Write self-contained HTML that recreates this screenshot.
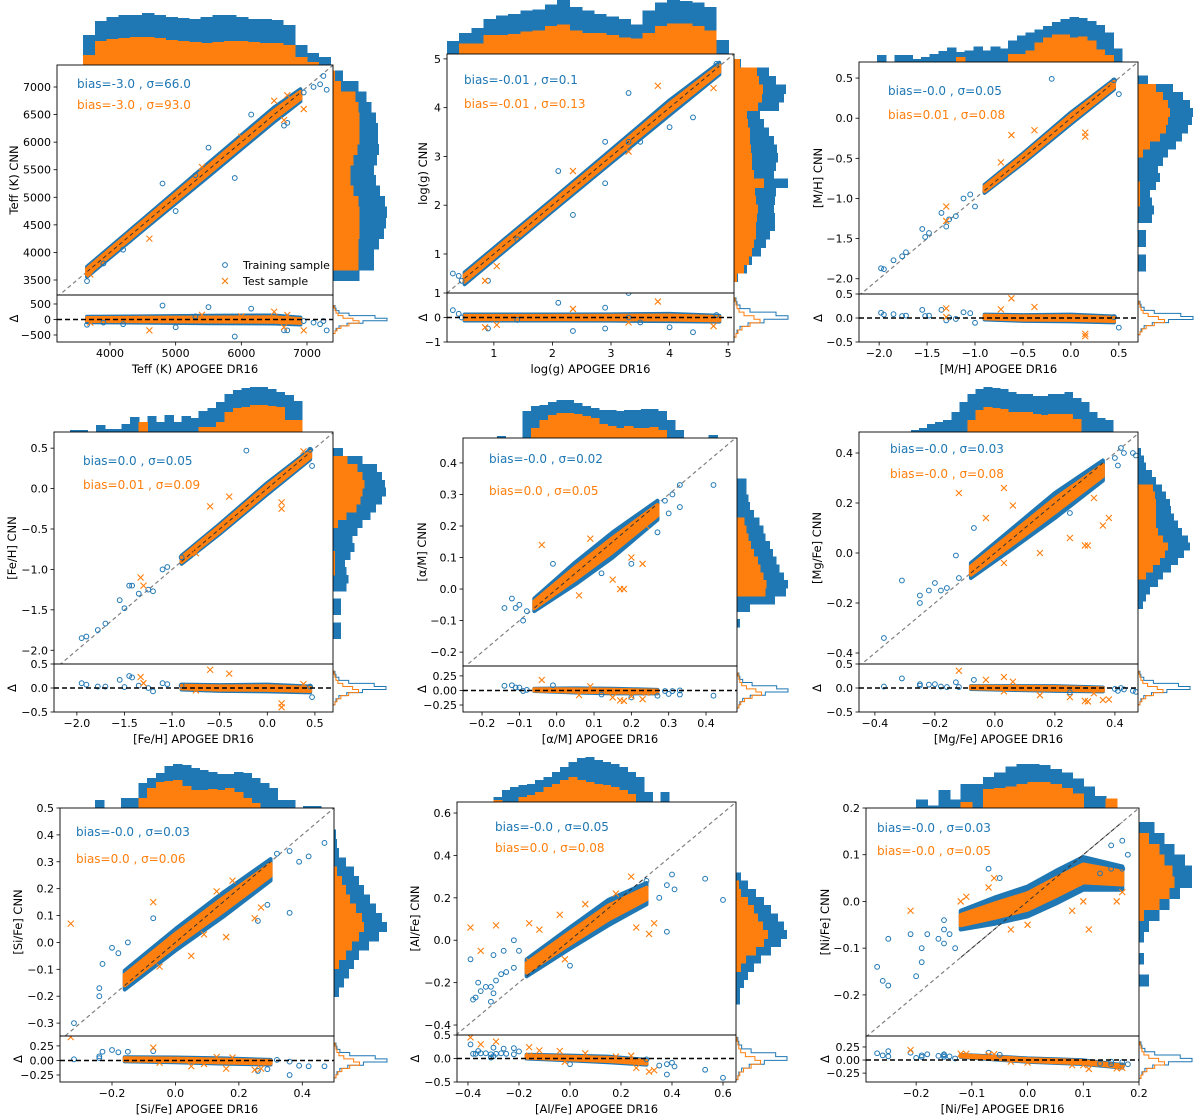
<!DOCTYPE html>
<html><head><meta charset="utf-8"><style>
html,body{margin:0;padding:0;background:#fff;}
svg{display:block;font-family:"DejaVu Sans","Liberation Sans",sans-serif;}
</style></head><body>
<svg id="fig" width="1200" height="1118" viewBox="0 0 1200 1118" xmlns="http://www.w3.org/2000/svg"></svg>
<script>
// ---------- DATA (per panel) ----------
const p1TrX=[7250,7200,7100,7300,6950,5900,4800,5300,5500,6150,3650,3900,6650,6700,4200,5000];
const p1TrY=[7200,7050,7000,6950,6900,5350,5250,5400,5900,6500,3480,3800,6300,6350,4050,4750];
const p1TeX=[4600,6950,6500,6700,5400,6000,3700,6650];
const p1TeY=[4250,6600,6750,6850,5550,6100,3600,6400];
const p1BandX=[3650,4500,5500,6500,6900];
const p1BandY=[3650,4500,5500,6500,6850];
const p1BandW=[90,100,120,130,110];
const p1TopB=[30,44,48,50,50,52,50,48,47,46,48,50,50,48,46,46,45,40,20,12,8];
const p1TopO=[10,24,26,27,28,28,27,25,24,23,22,23,24,24,23,22,22,20,8,3,0];
const p1RightB=[26,40,40,45,50,52,53,51,46,42,40,43,45,44,44,42,38,33,25,10];
const p1RightO=[0,25,25,25,26,26,26,25,20,17,17,20,24,26,26,26,25,22,8,2];
const p1ResB=[2,3,6,14,30,54,42,16,6,3,2];
const p1ResO=[2,4,8,16,26,20,10,5,3,2,1];

const p2TrX=[0.3,0.4,0.45,0.9,2.9,3.5,4.0,3.3,2.35,2.9,3.3,4.8,4.4,2.1,1.4];
const p2TrY=[0.6,0.55,0.45,0.45,3.3,3.3,3.6,3.3,1.8,2.45,4.3,4.9,3.8,2.7,1.3];
const p2TeX=[0.85,3.8,4.75,2.35,1.05,3.3];
const p2TeY=[0.45,4.45,4.4,2.7,0.75,3.1];
const p2BandX=[0.5,1,2,3,4,4.85];
const p2BandY=[0.5,1,2,3,4,4.8];
const p2BandW=[0.12,0.12,0.12,0.13,0.15,0.12];
const p2TopB=[11,18,22,30,33,34,37,38,42,46,40,37,34,32,30,25,37,44,46,45,44,40,12];
const p2TopO=[0,9,9,16,16,17,19,20,24,25,20,18,18,16,14,13,18,24,26,26,24,20,0];
const p2RightB=[4,13,18,27,32,36,41,41,40,41,42,54,40,42,44,43,40,35,30,26,45,50,52,42,35,7];
const p2RightO=[3,10,15,18,20,22,22,23,24,22,21,30,20,18,18,17,16,16,14,13,24,28,29,25,23,6];
const p2ResB=[2,3,6,14,30,54,42,16,6,3,2];
const p2ResO=[2,4,8,16,26,20,10,5,3,2,1];

const p3TrX=[-1.98,-1.95,-1.85,-1.72,-1.76,-1.52,-1.55,-1.48,-1.35,-1.27,-1.2,-1.05,-1.12,-0.2,0.45,0.5,-1.0,-1.3];
const p3TrY=[-1.87,-1.88,-1.77,-1.67,-1.72,-1.48,-1.38,-1.43,-1.18,-1.26,-1.22,-0.95,-1.0,0.49,0.47,0.3,-1.1,-1.35];
const p3TeX=[-1.3,-1.3,-0.62,0.15,0.15,-0.73,-0.38,0.42];
const p3TeY=[-1.1,-1.28,-0.21,-0.18,-0.23,-0.55,-0.15,0.4];
const p3BandX=[-0.9,-0.5,0,0.45];
const p3BandY=[-0.88,-0.5,0,0.42];
const p3BandW=[0.05,0.06,0.07,0.06];
const p3TopB=[7,0,7,7,3,5,8,11,15,10,12,16,12,16,14,22,27,30,33,37,41,44,46,45,42,38,30,14];
const p3TopO=[0,0,0,0,0,0,0,0,0,5,0,0,0,0,0,8,8,12,20,25,28,28,25,26,22,13,7,0];
const p3RightB=[8,8,0,8,8,0,14,16,14,12,18,22,20,25,30,38,44,50,54,55,52,45,35,10];
const p3RightO=[0,0,0,0,0,0,0,0,2,2,2,0,0,0,5,12,22,28,30,32,30,25,18,0];
const p3ResB=[2,3,6,14,30,54,42,16,6,3,2];
const p3ResO=[2,4,8,16,26,20,10,5,3,2,1];

const p4TrX=[-1.95,-1.9,-1.78,-1.7,-1.55,-1.45,-1.42,-1.5,-1.35,-1.25,-1.2,-1.05,-1.1,-0.22,0.45,0.47,-0.9];
const p4TrY=[-1.85,-1.83,-1.75,-1.67,-1.38,-1.2,-1.2,-1.48,-1.3,-1.25,-1.27,-0.97,-1.0,0.47,0.48,0.28,-0.85];
const p4TeX=[-1.33,-1.3,-0.6,0.15,0.15,-0.75,-0.4,0.38];
const p4TeY=[-1.1,-1.2,-0.22,-0.17,-0.25,-0.8,-0.1,0.46];
const p4BandX=[-0.9,-0.5,0,0.45];
const p4BandY=[-0.88,-0.5,0,0.42];
const p4BandW=[0.05,0.06,0.07,0.06];
const p4TopB=[2,2,0,7,3,3,8,15,5,16,10,17,10,16,14,21,24,30,38,42,44,45,45,43,40,37,31,0];
const p4TopO=[0,0,0,0,0,0,0,0,10,0,0,0,0,0,0,5,5,10,20,24,25,27,27,26,25,12,12,0];
const p4RightB=[8,8,0,8,8,0,14,16,14,12,18,22,20,25,30,38,44,50,54,53,50,45,30,10];
const p4RightO=[0,0,0,0,0,0,0,0,2,2,2,0,0,0,5,14,24,28,30,32,30,25,15,0];
const p4ResB=[2,3,6,14,30,54,42,16,6,3,2];
const p4ResO=[2,4,8,16,26,20,10,5,3,2,1];

const p5TrX=[-0.14,-0.11,-0.1,-0.09,-0.12,-0.08,0.42,0.33,0.31,0.33,0.29,0.3,0.27,-0.01,0.12,0.2];
const p5TrY=[-0.06,-0.06,-0.05,-0.1,-0.03,-0.07,0.33,0.33,0.3,0.26,0.28,0.24,0.18,0.08,0.05,0.08];
const p5TeX=[0.23,0.2,0.17,0.18,0.09,-0.04,0.06,0.24,0.15];
const p5TeY=[0.08,0.1,0.0,-0.0,0.16,0.14,-0.02,0.2,0.03];
const p5BandX=[-0.06,0.05,0.15,0.27];
const p5BandY=[-0.05,0.05,0.14,0.25];
const p5BandW=[0.02,0.035,0.04,0.03];
const p5TopB=[2,0,0,27,32,33,36,38,38,35,32,30,28,28,27,28,28,29,29,27,18,8,0,0,0,3];
const p5TopO=[0,0,0,0,10,18,23,25,25,24,22,20,14,12,10,12,10,10,11,8,0,0,0,0,0,0];
const p5RightB=[3,0,14,40,52,54,50,45,42,38,35,30,28,24,18,14,12,10,10];
const p5RightO=[0,0,0,0,30,31,28,25,22,18,15,12,10,8,0,0,0,0,0];
const p5ResB=[2,3,6,14,30,54,42,16,6,3,2];
const p5ResO=[2,4,8,16,26,20,10,5,3,2,1];

const p6TrX=[-0.37,-0.31,-0.25,-0.25,-0.22,-0.2,-0.18,-0.16,-0.12,-0.13,-0.07,0.42,0.43,0.46,0.47,0.4,0.41,0.25];
const p6TrY=[-0.34,-0.11,-0.17,-0.2,-0.15,-0.12,-0.15,-0.14,-0.1,-0.01,0.1,0.42,0.4,0.4,0.39,0.38,0.35,0.16];
const p6TeX=[-0.12,0.03,0.38,0.3,0.31,0.33,0.15,0.25,-0.03,0.06,0.36,0.03];
const p6TeY=[0.24,0.26,0.14,0.03,0.03,0.22,-0.0,0.06,0.14,0.19,0.11,-0.04];
const p6BandX=[-0.08,0.05,0.2,0.36];
const p6BandY=[-0.07,0.05,0.19,0.33];
const p6BandW=[0.03,0.04,0.05,0.04];
const p6TopB=[2,4,8,10,12,20,30,38,43,45,44,43,40,38,38,36,36,38,38,40,34,30,20,14,12,0];
const p6TopO=[0,0,0,0,0,0,0,12,22,25,24,23,20,20,20,18,17,18,18,18,13,0,0,0,0,0];
const p6RightB=[5,8,12,20,25,33,40,46,52,50,44,40,36,33,32,28,24,18,14,8,6,3];
const p6RightO=[0,0,0,0,8,15,22,27,30,25,20,18,18,18,18,17,15,0,0,0,0,0];
const p6ResB=[2,3,6,14,30,54,42,16,6,3,2];
const p6ResO=[2,4,8,16,26,20,10,5,3,2,1];

const p7TrX=[-0.32,-0.23,-0.2,-0.18,-0.24,-0.24,-0.15,0.47,0.42,0.39,0.36,0.36,0.29,0.32,0.26,-0.07];
const p7TrY=[-0.3,-0.08,-0.02,-0.04,-0.17,-0.2,0.0,0.37,0.32,0.3,0.34,0.11,0.14,0.33,0.08,0.09];
const p7TeX=[-0.33,-0.07,0.05,-0.05,0.18,0.27,0.25,0.13,0.16,0.09];
const p7TeY=[0.07,0.15,-0.05,-0.09,0.23,0.13,0.09,0.19,0.02,0.03];
const p7BandX=[-0.16,0.0,0.15,0.3];
const p7BandY=[-0.14,0.01,0.14,0.27];
const p7BandW=[0.035,0.04,0.045,0.04];
const p7TopB=[8,0,0,10,10,25,30,35,42,44,43,40,38,36,34,34,36,35,30,25,20,8,8,0,2,2,0];
const p7TopO=[0,0,0,0,0,10,20,26,27,28,22,18,18,19,18,20,16,10,5,0,0,0,0,0,0,0,0];
const p7RightB=[5,10,15,20,25,35,45,53,48,42,36,30,25,20,12,5,3,2];
const p7RightO=[0,0,0,5,12,18,25,30,28,22,16,12,8,3,0,0,0,0];
const p7ResB=[2,3,6,14,30,54,42,16,6,3,2];
const p7ResO=[2,4,8,16,26,20,10,5,3,2,1];

const p8TrX=[-0.39,-0.38,-0.37,-0.36,-0.35,-0.33,-0.31,-0.3,-0.29,-0.27,-0.25,-0.22,-0.3,-0.26,-0.2,-0.22,0.6,0.53,0.4,0.41,0.38,0.35,0.3,0.38,0.0,-0.31];
const p8TrY=[-0.09,-0.28,-0.27,-0.2,-0.24,-0.22,-0.22,-0.25,-0.19,-0.16,-0.15,0.0,-0.07,-0.05,-0.05,-0.13,0.19,0.29,0.31,0.24,0.04,0.2,0.28,0.26,-0.12,-0.29];
const p8TeX=[-0.39,-0.35,-0.29,-0.16,-0.12,-0.04,0.06,0.18,0.24,0.33,0.31,0.26,-0.02,-0.16];
const p8TeY=[0.06,-0.05,0.07,0.08,0.05,0.12,0.17,0.22,0.3,0.08,0.03,0.06,-0.09,-0.1];
const p8BandX=[-0.17,0.0,0.15,0.3];
const p8BandY=[-0.13,0.01,0.13,0.22];
const p8BandW=[0.04,0.05,0.06,0.05];
const p8TopB=[5,12,15,17,18,22,25,30,35,40,44,45,42,40,38,35,30,25,10,0,10,0];
const p8TopO=[2,0,0,5,7,10,15,18,22,25,22,20,18,17,15,12,8,0,0,0,0,0];
const p8RightB=[4,4,8,12,18,25,35,45,51,48,42,35,28,20,12,5];
const p8RightO=[0,0,0,0,5,10,20,28,32,27,22,18,12,5,3,0];
const p8ResB=[2,3,6,14,30,54,42,16,6,3,2];
const p8ResO=[2,4,8,16,26,20,10,5,3,2,1];

const p9TrX=[-0.27,-0.26,-0.25,-0.25,-0.21,-0.2,-0.19,-0.19,-0.18,-0.15,-0.15,-0.15,-0.14,-0.13,-0.16,0.17,0.18,0.15,0.17,0.15,0.13,-0.07,-0.05];
const p9TrY=[-0.14,-0.17,-0.18,-0.08,-0.07,-0.16,-0.1,-0.13,-0.07,-0.04,-0.06,-0.09,-0.07,-0.1,-0.08,0.13,0.1,0.07,0.07,0.12,0.06,0.07,0.05];
const p9TeX=[-0.21,-0.12,-0.11,-0.07,-0.06,0.11,0.16,0.17,0.08,0.0,-0.03,0.1];
const p9TeY=[-0.02,0.0,0.01,0.03,0.05,-0.06,0.0,0.02,-0.02,-0.05,-0.06,0.0];
const p9BandX=[-0.12,-0.06,0.0,0.05,0.1,0.17];
const p9BandY=[-0.04,-0.02,0.0,0.03,0.06,0.05];
const p9BandW=[0.02,0.028,0.032,0.035,0.035,0.025];
const p9TopB=[7,2,15,7,20,20,26,30,35,37,37,36,33,30,25,18,10,8,0];
const p9TopO=[0,0,0,0,5,0,16,17,18,20,22,22,20,17,12,0,0,8,0];
const p9RightB=[10,0,5,0,5,10,20,30,40,52,52,45,35,25,15];
const p9RightO=[0,0,0,0,0,0,5,20,30,35,33,25,20,10,0];
const p9ResB=[2,3,6,14,30,54,42,16,6,3,2];
const p9ResO=[2,4,8,16,26,20,10,5,3,2,1];

// tick labels
const p1XT=["4000","5000","6000","7000"], p1YT=["3500","4000","4500","5000","5500","6000","6500","7000"], p1RT=["500","0","−500"];
const p2XT=["1","2","3","4","5"], p2YT=["1","2","3","4","5"], p2RT=["1","0","−1"];
const p3XT=["−2.0","−1.5","−1.0","−0.5","0.0","0.5"], p3YT=["−2.0","−1.5","−1.0","−0.5","0.0","0.5"], p3RT=["0.5","0.0","−0.5"];
const p4XT=["−2.0","−1.5","−1.0","−0.5","0.0","0.5"], p4YT=["−2.0","−1.5","−1.0","−0.5","0.0","0.5"], p4RT=["0.5","0.0","−0.5"];
const p5XT=["−0.2","−0.1","0.0","0.1","0.2","0.3","0.4"], p5YT=["−0.2","−0.1","0.0","0.1","0.2","0.3","0.4"], p5RT=["0.25","0.00","−0.25"];
const p6XT=["−0.4","−0.2","0.0","0.2","0.4"], p6YT=["−0.4","−0.2","0.0","0.2","0.4"], p6RT=["0.5","0.0","−0.5"];
const p7XT=["−0.2","0.0","0.2","0.4"], p7YT=["−0.3","−0.2","−0.1","0.0","0.1","0.2","0.3","0.4","0.5"], p7RT=["0.25","0.00","−0.25"];
const p8XT=["−0.4","−0.2","0.0","0.2","0.4","0.6"], p8YT=["−0.4","−0.2","0.0","0.2","0.4","0.6"], p8RT=["0.5","0.0","−0.5"];
const p9XT=["−0.2","−0.1","0.0","0.1","0.2"], p9YT=["−0.2","−0.1","0.0","0.1","0.2"], p9RT=["0.25","0.00","−0.25"];

// ---------- LAYOUT ----------
const panels=[
 {n:"teff",q:"Teff (K)",l:57,r:333,t:65,b:295,rb:342,xlim:[3193,7396],ylim:[3228,7399],rlim:[-726,790],top:[3590,7350],topH:52,right:[3500,7300],rw:54,res:[-450,450],yl:43,tx:[77,84,77,105],s1:"bias=-3.0 , σ=66.0",s2:"bias=-3.0 , σ=93.0",
  d:[p1TrX,p1TrY,p1TeX,p1TeY,p1BandX,p1BandY,p1BandW,p1TopB,p1TopO,p1RightB,p1RightO,p1ResB,p1ResO,p1XT,p1YT,p1RT]},
 {n:"logg",q:"log(g)",l:447,r:734,t:54,b:293,rb:342,xlim:[0.2,5.1],ylim:[0.2,5.1],rlim:[-1,1],top:[0.2,5.0],topH:54,right:[0.44,5.0],rw:54,res:[-0.8,0.8],yl:24,tx:[464,80,464,104],s1:"bias=-0.01 , σ=0.1",s2:"bias=-0.01 , σ=0.13",
  d:[p2TrX,p2TrY,p2TeX,p2TeY,p2BandX,p2BandY,p2BandW,p2TopB,p2TopO,p2RightB,p2RightO,p2ResB,p2ResO,p2XT,p2YT,p2RT]},
 {n:"mh",q:"[M/H]",l:859,r:1138,t:62,b:294,rb:342,xlim:[-2.21,0.70],ylim:[-2.19,0.70],rlim:[-0.5,0.5],top:[-2.02,0.53],topH:45,right:[-1.9,0.53],rw:55,res:[-0.35,0.35],yl:41,tx:[888,91,888,115],s1:"bias=-0.0 , σ=0.05",s2:"bias=0.01 , σ=0.08",
  d:[p3TrX,p3TrY,p3TeX,p3TeY,p3BandX,p3BandY,p3BandW,p3TopB,p3TopO,p3RightB,p3RightO,p3ResB,p3ResO,p3XT,p3YT,p3RT]},
 {n:"feh",q:"[Fe/H]",l:54,r:333,t:432,b:664,rb:712,xlim:[-2.24,0.69],ylim:[-2.17,0.70],rlim:[-0.5,0.5],top:[-2.07,0.45],topH:45,right:[-1.85,0.5],rw:53,res:[-0.35,0.35],yl:42,tx:[83,461,83,485],s1:"bias=0.0 , σ=0.05",s2:"bias=0.01 , σ=0.09",
  d:[p4TrX,p4TrY,p4TeX,p4TeY,p4BandX,p4BandY,p4BandW,p4TopB,p4TopO,p4RightB,p4RightO,p4ResB,p4ResO,p4XT,p4YT,p4RT]},
 {n:"alpham",q:"[α/M]",l:463,r:737,t:438,b:666,rb:712,xlim:[-0.251,0.483],ylim:[-0.244,0.479],rlim:[-0.37,0.42],top:[-0.16,0.43],topH:38,right:[-0.12,0.35],rw:51,res:[-0.3,0.3],yl:41,tx:[489,459,489,491],s1:"bias=-0.0 , σ=0.02",s2:"bias=0.0 , σ=0.05",
  d:[p5TrX,p5TrY,p5TeX,p5TeY,p5BandX,p5BandY,p5BandW,p5TopB,p5TopO,p5RightB,p5RightO,p5ResB,p5ResO,p5XT,p5YT,p5RT]},
 {n:"mgfe",q:"[Mg/Fe]",l:859,r:1138,t:432,b:664,rb:712,xlim:[-0.453,0.477],ylim:[-0.444,0.484],rlim:[-0.5,0.5],top:[-0.28,0.42],topH:45,right:[-0.22,0.42],rw:52,res:[-0.35,0.35],yl:42,tx:[890,449,890,474],s1:"bias=-0.0 , σ=0.03",s2:"bias=-0.0 , σ=0.08",
  d:[p6TrX,p6TrY,p6TeX,p6TeY,p6BandX,p6BandY,p6BandW,p6TopB,p6TopO,p6RightB,p6RightO,p6ResB,p6ResO,p6XT,p6YT,p6RT]},
 {n:"sife",q:"[Si/Fe]",l:60,r:334,t:808,b:1036,rb:1082,xlim:[-0.364,0.50],ylim:[-0.348,0.5],rlim:[-0.37,0.42],top:[-0.253,0.485],topH:44,right:[-0.2,0.42],rw:53,res:[-0.3,0.3],yl:42,tx:[76,832,76,859],s1:"bias=-0.0 , σ=0.03",s2:"bias=0.0 , σ=0.06",
  d:[p7TrX,p7TrY,p7TeX,p7TeY,p7BandX,p7BandY,p7BandW,p7TopB,p7TopO,p7RightB,p7RightO,p7ResB,p7ResO,p7XT,p7YT,p7RT]},
 {n:"alfe",q:"[Al/Fe]",l:457,r:736,t:802,b:1035,rb:1082,xlim:[-0.443,0.651],ylim:[-0.447,0.652],rlim:[-0.5,0.5],top:[-0.3,0.42],topH:45,right:[-0.3,0.32],rw:51,res:[-0.45,0.45],yl:42,tx:[495,827,495,848],s1:"bias=-0.0 , σ=0.05",s2:"bias=0.0 , σ=0.08",
  d:[p8TrX,p8TrY,p8TeX,p8TeY,p8BandX,p8BandY,p8BandW,p8TopB,p8TopO,p8RightB,p8RightO,p8ResB,p8ResO,p8XT,p8YT,p8RT]},
 {n:"nife",q:"[Ni/Fe]",l:866,r:1139,t:808,b:1036,rb:1082,xlim:[-0.29,0.2],ylim:[-0.288,0.2],rlim:[-0.42,0.46],top:[-0.2,0.18],topH:44,right:[-0.18,0.17],rw:53,res:[-0.35,0.35],yl:41,tx:[877,828,877,851],s1:"bias=-0.0 , σ=0.03",s2:"bias=-0.0 , σ=0.05",
  d:[p9TrX,p9TrY,p9TeX,p9TeY,p9BandX,p9BandY,p9BandW,p9TopB,p9TopO,p9RightB,p9RightO,p9ResB,p9ResO,p9XT,p9YT,p9RT]}
];

const NS="http://www.w3.org/2000/svg";
const svg=document.getElementById("fig");
const BLUE="#1f77b4", ORANGE="#ff7f0e";
function mk(tag,attrs,parent){const e=document.createElementNS(NS,tag);for(const k in attrs)e.setAttribute(k,attrs[k]);(parent||svg).appendChild(e);return e;}
function num(s){return parseFloat(s.replace("−","-"));}
const defs=mk("defs",{});

panels.forEach((p,pi)=>{
 const [trX,trY,teX,teY,bX,bY,bW,topB,topO,rB,rO,resB,resO,xT,yT,rT]=p.d;
 const g=mk("g",{});
 
 
 const sx=v=>p.l+(v-p.xlim[0])/(p.xlim[1]-p.xlim[0])*(p.r-p.l);
 const sy=v=>p.b-(v-p.ylim[0])/(p.ylim[1]-p.ylim[0])*(p.b-p.t);
 const sr=v=>p.rb-(v-p.rlim[0])/(p.rlim[1]-p.rlim[0])*(p.rb-p.b);
 const mx=Math.max(...topB), scT=p.topH/mx;
 // top histogram
 const th=mk("g",{"shape-rendering":"crispEdges"},g);
 
 
 const tw=(p.top[1]-p.top[0])/topB.length;
 topB.forEach((v,i)=>{const x0=sx(p.top[0]+i*tw),x1=sx(p.top[0]+(i+1)*tw);
  if(v>0){const r=mk("rect",{x:x0,y:p.t-v*scT,width:x1-x0+0.8,height:v*scT,fill:BLUE},th);}
 });
 topB.forEach((v,i)=>{const x0=sx(p.top[0]+i*tw),x1=sx(p.top[0]+(i+1)*tw);
  if(topO[i]>0){const r=mk("rect",{x:x0,y:p.t-topO[i]*scT,width:x1-x0+0.8,height:topO[i]*scT,fill:ORANGE},th);}
 });
 // right histogram
 const rh=mk("g",{"shape-rendering":"crispEdges"},g);
 
 
 const scR=p.rw/Math.max(...rB), rwid=(p.right[1]-p.right[0])/rB.length;
 rB.forEach((v,i)=>{const y0=sy(p.right[0]+(i+1)*rwid),y1=sy(p.right[0]+i*rwid);
  if(v>0){const r=mk("rect",{x:p.r,y:y0,width:v*scR,height:y1-y0+0.8,fill:BLUE},rh);}
 });
 rB.forEach((v,i)=>{const y0=sy(p.right[0]+(i+1)*rwid),y1=sy(p.right[0]+i*rwid);
  if(rO[i]>0){const r=mk("rect",{x:p.r,y:y0,width:rO[i]*scR,height:y1-y0+0.8,fill:ORANGE},rh);}
 });
 // residual histogram (step outline)
 const scS=p.rw/Math.max(...resB), sw=(p.res[1]-p.res[0])/resB.length;
 [[resB,BLUE],[resO,ORANGE]].forEach(([arr,c],k)=>{
  let d="M"+p.r+","+sr(p.res[0]);
  arr.forEach((v,i)=>{const ya=sr(p.res[0]+i*sw),yb=sr(p.res[0]+(i+1)*sw);d+=" L"+(p.r+v*scS)+","+ya+" L"+(p.r+v*scS)+","+yb;});
  d+=" L"+p.r+","+sr(p.res[1]);
  const pa=mk("path",{d:d,fill:"none",stroke:c,"stroke-width":1},g);
  
  
 });
 // axes backgrounds
 mk("rect",{x:p.l,y:p.t,width:p.r-p.l,height:p.b-p.t,fill:"#fff"},g);
 mk("rect",{x:p.l,y:p.b,width:p.r-p.l,height:p.rb-p.b,fill:"#fff"},g);
 const cm=mk("clipPath",{id:"cm"+pi},defs);mk("rect",{x:p.l,y:p.t,width:p.r-p.l,height:p.b-p.t},cm);
 const cr=mk("clipPath",{id:"cr"+pi},defs);mk("rect",{x:p.l,y:p.b,width:p.r-p.l,height:p.rb-p.b},cr);
 const gm=mk("g",{"clip-path":"url(#cm"+pi+")"},g);
 
 
 const gr=mk("g",{"clip-path":"url(#cr"+pi+")"},g);
 
 
 // identity line
 const lo=Math.min(p.xlim[0],p.ylim[0]),hi=Math.max(p.xlim[1],p.ylim[1]);
 const dl=mk("line",{x1:sx(lo),y1:sy(lo),x2:sx(hi),y2:sy(hi),stroke:"#808080","stroke-width":1.2,"stroke-dasharray":"4,3"},gm);
 
 // bands
 function band(par,fy,frac,color,name){
  let up=[],dn=[];
  bX.forEach((x,i)=>{up.push(sx(x)+","+fy(bY[i]-(par?x:0)+bW[i]*frac));dn.unshift(sx(x)+","+fy(bY[i]-(par?x:0)-bW[i]*frac));});
  const pg=mk("polygon",{points:up.concat(dn).join(" "),fill:color,stroke:color,"stroke-width":4,"stroke-linejoin":"round"},par?gr:gm);
  
 }
 band(0,sy,1,BLUE,'training-density-band');band(0,sy,0.55,ORANGE,'test-density-band');
 band(1,sr,1,BLUE,'training-residual-band');band(1,sr,0.55,ORANGE,'test-residual-band');
 const bl=mk("line",{x1:sx(bX[0]),y1:sy(bX[0]),x2:sx(bX[bX.length-1]),y2:sy(bX[bX.length-1]),stroke:"#333","stroke-width":1,"stroke-dasharray":"4,3"},gm);
 
 // points
 trX.forEach((x,i)=>{
  const c=mk("circle",{cx:sx(x),cy:sy(trY[i]),r:2.4,fill:"none",stroke:BLUE,"stroke-width":1},gm);
  
  const c2=mk("circle",{cx:sx(x),cy:sr(trY[i]-x),r:2.4,fill:"none",stroke:BLUE,"stroke-width":1},gr);
  
 });
 function cross(cx,cy,par,name){const s=3;const pa=mk("path",{d:`M${cx-s},${cy-s}L${cx+s},${cy+s}M${cx-s},${cy+s}L${cx+s},${cy-s}`,stroke:ORANGE,"stroke-width":1.1},par);}
 teX.forEach((x,i)=>{cross(sx(x),sy(teY[i]),gm,'test-point');cross(sx(x),sr(teY[i]-x),gr,'test-residual-point');});
 const zl=mk("line",{x1:p.l,y1:sr(0),x2:p.r,y2:sr(0),stroke:"#000","stroke-width":1.5,"stroke-dasharray":"5,3"},gr);
 
 // frames
 mk("rect",{x:p.l,y:p.t,width:p.r-p.l,height:p.b-p.t,fill:"none",stroke:"#000","stroke-width":0.9},g);
 mk("rect",{x:p.l,y:p.b,width:p.r-p.l,height:p.rb-p.b,fill:"none",stroke:"#000","stroke-width":0.9},g);
 // ticks
 xT.forEach(s=>{const v=num(s),x=sx(v);if(x<p.l-1||x>p.r+1)return;
  mk("line",{x1:x,y1:p.rb,x2:x,y2:p.rb+3.5,stroke:"#000","stroke-width":0.8},g);
  const t=mk("text",{x:x,y:p.rb+15,"font-size":11,"text-anchor":"middle",fill:"#000"},g);t.textContent=s;
  });
 yT.forEach(s=>{const v=num(s),y=sy(v);if(y<p.t-1||y>p.b+1)return;
  mk("line",{x1:p.l-3.5,y1:y,x2:p.l,y2:y,stroke:"#000","stroke-width":0.8},g);
  const t=mk("text",{x:p.l-6,y:y+4,"font-size":11,"text-anchor":"end",fill:"#000"},g);t.textContent=s;
  });
 rT.forEach(s=>{const v=num(s),y=sr(v);
  mk("line",{x1:p.l-3.5,y1:y,x2:p.l,y2:y,stroke:"#000","stroke-width":0.8},g);
  const t=mk("text",{x:p.l-6,y:y+4,"font-size":11,"text-anchor":"end",fill:"#000"},g);t.textContent=s;
  });
 // labels
 const xl=mk("text",{x:(p.l+p.r)/2,y:p.rb+31,"font-size":11.5,"text-anchor":"middle",fill:"#000"},g);xl.textContent=p.q+" APOGEE DR16";
 
 const ylx=p.l-p.yl,yly=(p.t+p.b)/2;
 const yl=mk("text",{x:ylx,y:yly,"font-size":11.5,"text-anchor":"middle",fill:"#000",transform:`rotate(-90 ${ylx} ${yly})`,"dominant-baseline":"central"},g);yl.textContent=p.q+" CNN";
 
 const dy=(p.b+p.rb)/2;
 const dt=mk("text",{x:ylx,y:dy,"font-size":11.5,"text-anchor":"middle",fill:"#000",transform:`rotate(-90 ${ylx} ${dy})`,"dominant-baseline":"central"},g);dt.textContent="Δ";
 
 const b1=mk("text",{x:p.tx[0],y:p.tx[1]+4,"font-size":12,fill:BLUE},g);b1.textContent=p.s1;
 
 const b2=mk("text",{x:p.tx[2],y:p.tx[3]+4,"font-size":12,fill:ORANGE},g);b2.textContent=p.s2;
 
 if(pi===0){
  const lg=mk("g",{},g);
  
  mk("circle",{cx:225,cy:265,r:2.4,fill:"none",stroke:BLUE,"stroke-width":1},lg);
  const l1=mk("text",{x:243,y:269,"font-size":11,fill:"#000"},lg);l1.textContent="Training sample";
  
  mk("path",{d:"M222,278L228,284M222,284L228,278",stroke:ORANGE,"stroke-width":1.1},lg);
  const l2=mk("text",{x:243,y:285,"font-size":11,fill:"#000"},lg);l2.textContent="Test sample";
  
 }
});
</script>
</body></html>
